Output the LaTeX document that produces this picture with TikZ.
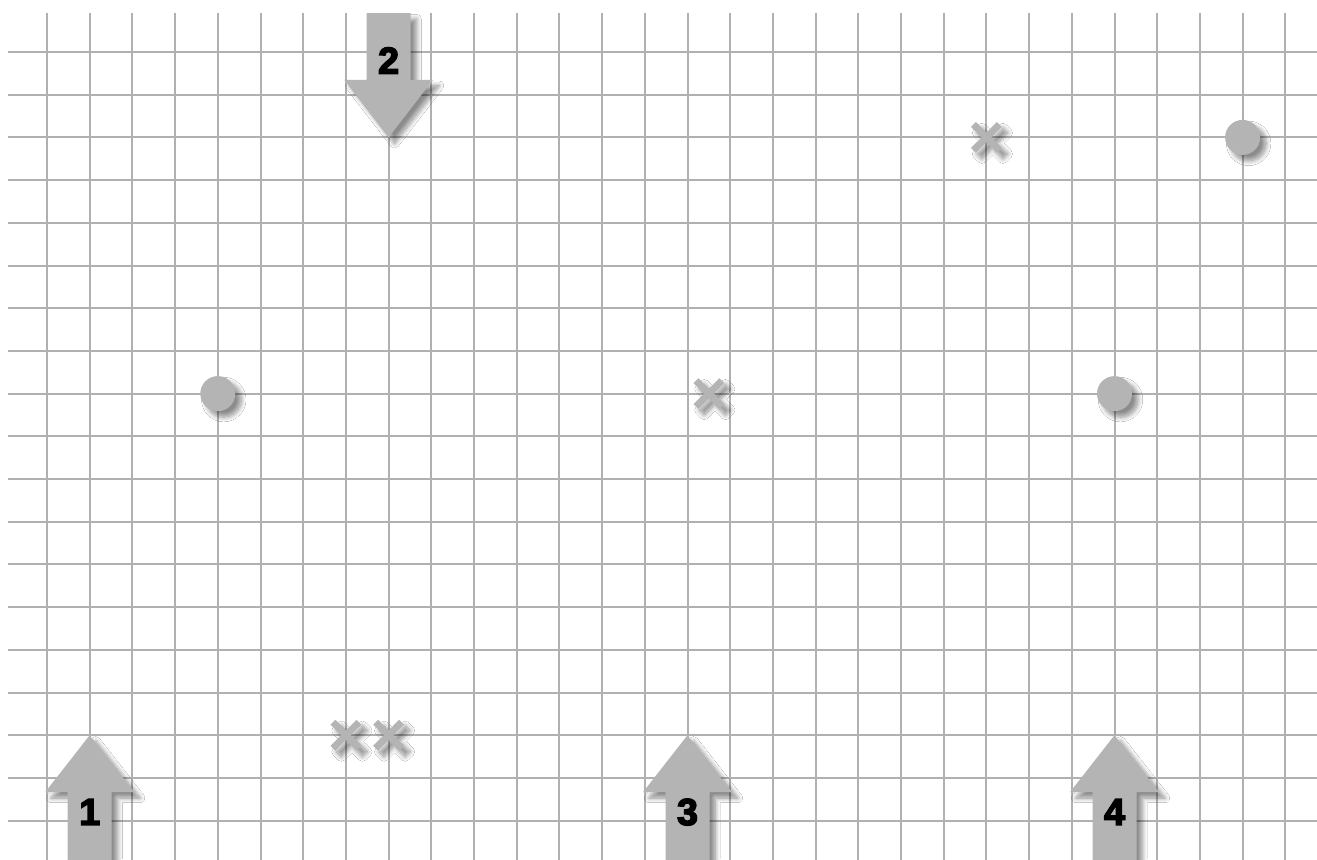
\documentclass[tikz,border=0pt]{standalone}
\usepackage{fontspec}
\newfontfamily\numfont[FakeBold=4]{Liberation Sans}
\usetikzlibrary{shadows.blur}
\definecolor{gridc}{RGB}{176,176,176}
\definecolor{shapec}{RGB}{180,180,180}
\tikzset{
  gridline/.style={draw=gridc, line width=1.35pt},
  mark shape/.style={fill=shapec, blur shadow={shadow xshift=0.14cm, shadow yshift=-0.14cm, shadow blur radius=0.11cm, shadow blur steps=10, shadow opacity=45}},
  numlabel/.style={font=\numfont\bfseries\fontsize{25}{25}\selectfont, text=black, inner sep=0pt}
}
\newcommand{\upArrow}[2]{% tip x, tip y
  \path[mark shape] (#1,#2) -- (#1+1.04,#2-1.33) -- (#1+0.515,#2-1.33) -- (#1+0.515,-19.5)
    -- (#1-0.515,-19.5) -- (#1-0.515,#2-1.33) -- (#1-1.04,#2-1.33) -- cycle;}
\newcommand{\xMark}[2]{%
  \path[mark shape, shift={(#1,#2)}] (0,0.113) -- (0.247,0.361) -- (0.361,0.247) -- (0.113,0)
    -- (0.361,-0.247) -- (0.247,-0.361) -- (0,-0.113) -- (-0.247,-0.361) -- (-0.361,-0.247)
    -- (-0.113,0) -- (-0.361,0.247) -- (-0.247,0.361) -- cycle;}
\begin{document}
\begin{tikzpicture}[x=1cm,y=1cm]
\clip (-1.101,1.218) rectangle (29.742,-18.899);
\fill[white] (-1.101,1.218) rectangle (29.742,-18.899);
% grid
\foreach \i in {0,...,29} \draw[gridline] (\i,0.913) -- (\i,-19);
\foreach \j in {0,...,18} \draw[gridline] (-0.913,-\j) -- (30,-\j);
% circles
\path[mark shape] (4,-8) circle (0.41);
\path[mark shape] (28,-2) circle (0.41);
\path[mark shape] (25,-8) circle (0.41);
% crosses
\xMark{22}{-2}
\xMark{15.5}{-8}
\xMark{7}{-16}
\xMark{8}{-16}
% arrow 2 (down)
\path[mark shape] (8,-2) -- (9.04,-0.65) -- (8.515,-0.65) -- (8.515,0.913)
  -- (7.485,0.913) -- (7.485,-0.65) -- (6.96,-0.65) -- cycle;
\node[numlabel] (l2) at (8,-0.2) {2};
% arrows 1,3,4 (up)
\upArrow{1}{-16}
\upArrow{15}{-16}
\upArrow{25}{-16}
\node[numlabel] (l1) at (1,-17.8) {1};
\node[numlabel] (l3) at (15,-17.8) {3};
\node[numlabel] (l4) at (25,-17.8) {4};
\end{tikzpicture}
\end{document}
